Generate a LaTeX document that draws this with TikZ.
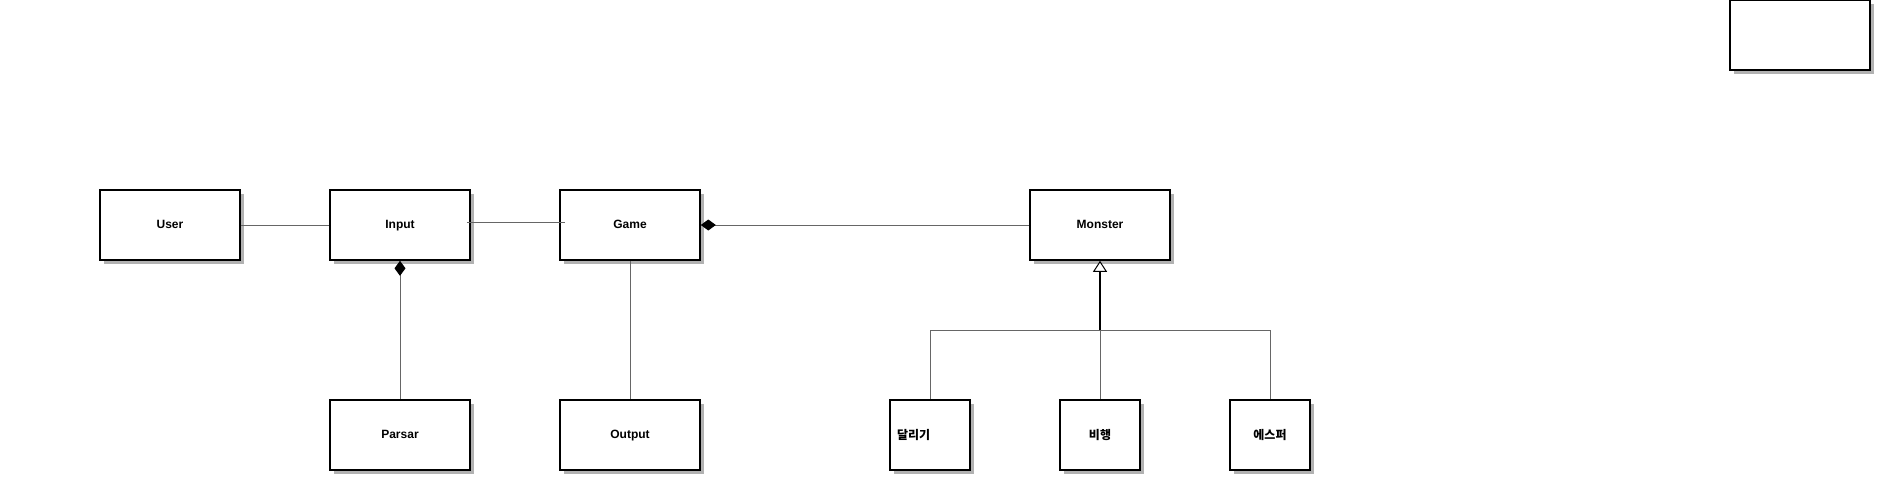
\documentclass[tikz,border=0pt]{standalone}
\usepackage{fontspec}
\setmainfont{Liberation Sans}
\newfontfamily\kr{Noto Sans CJK KR}
\usetikzlibrary{shadows,arrows.meta}
\begin{document}
\begin{tikzpicture}[x=1pt,y=-1pt,
  box/.style={draw=black, line width=1.6pt, fill=white, minimum width=140pt, minimum height=70pt,
    inner sep=0pt, text height=8.6pt, text depth=2.4pt, font=\bfseries\fontsize{12}{14}\selectfont,
    drop shadow={shadow xshift=4pt, shadow yshift=-4pt, fill=black!30, opacity=1}},
  sbox/.style={box, minimum width=80pt, text height=9.5pt, text depth=1.5pt, font=\kr\bfseries\fontsize{12}{14}\selectfont},
  conn/.style={draw=black!60, line width=1pt},
  comp/.style={conn, {Diamond[length=15pt,width=11pt,color=black]}-}]
\path[use as bounding box, fill=white] (0,0) rectangle (1890,490);
\node[box] (user) at (170,225) {User};
\node[box] (input) at (400,225) {Input};
\node[box] (game) at (630,225) {Game};
\node[box] (monster) at (1100,225) {Monster};
\node[box] (parsar) at (400,435) {Parsar};
\node[box] (output) at (630,435) {Output};
\node[sbox, text width=66pt, align=left] (run) at (930,435) {달리기};
\node[sbox] (fly) at (1100,435) {비행};
\node[sbox] (esp) at (1270,435) {에스퍼};
\node[box] (tr) at (1800,35) {};
\draw[conn] (user) -- (input);
\draw[conn] ([shift={(-4,-3)}]input.east) -- ([shift={(6,-3)}]game.west);
\draw[comp] (input.south) -- (parsar.north);
\draw[comp] (game.east) -- (monster.west);
\draw[conn] (game.south) -- (output.north);
\coordinate (j) at (1100,330);
\draw[conn] (run.north) |- (j);
\draw[conn] (esp.north) |- (j);
\draw[conn] (fly.north) -- (j);
\draw[line width=1.3pt, -{Triangle[open, fill=white, color=black, length=11pt, width=14pt, line width=1pt]}] (j) -- (monster.south);
\end{tikzpicture}
\end{document}
